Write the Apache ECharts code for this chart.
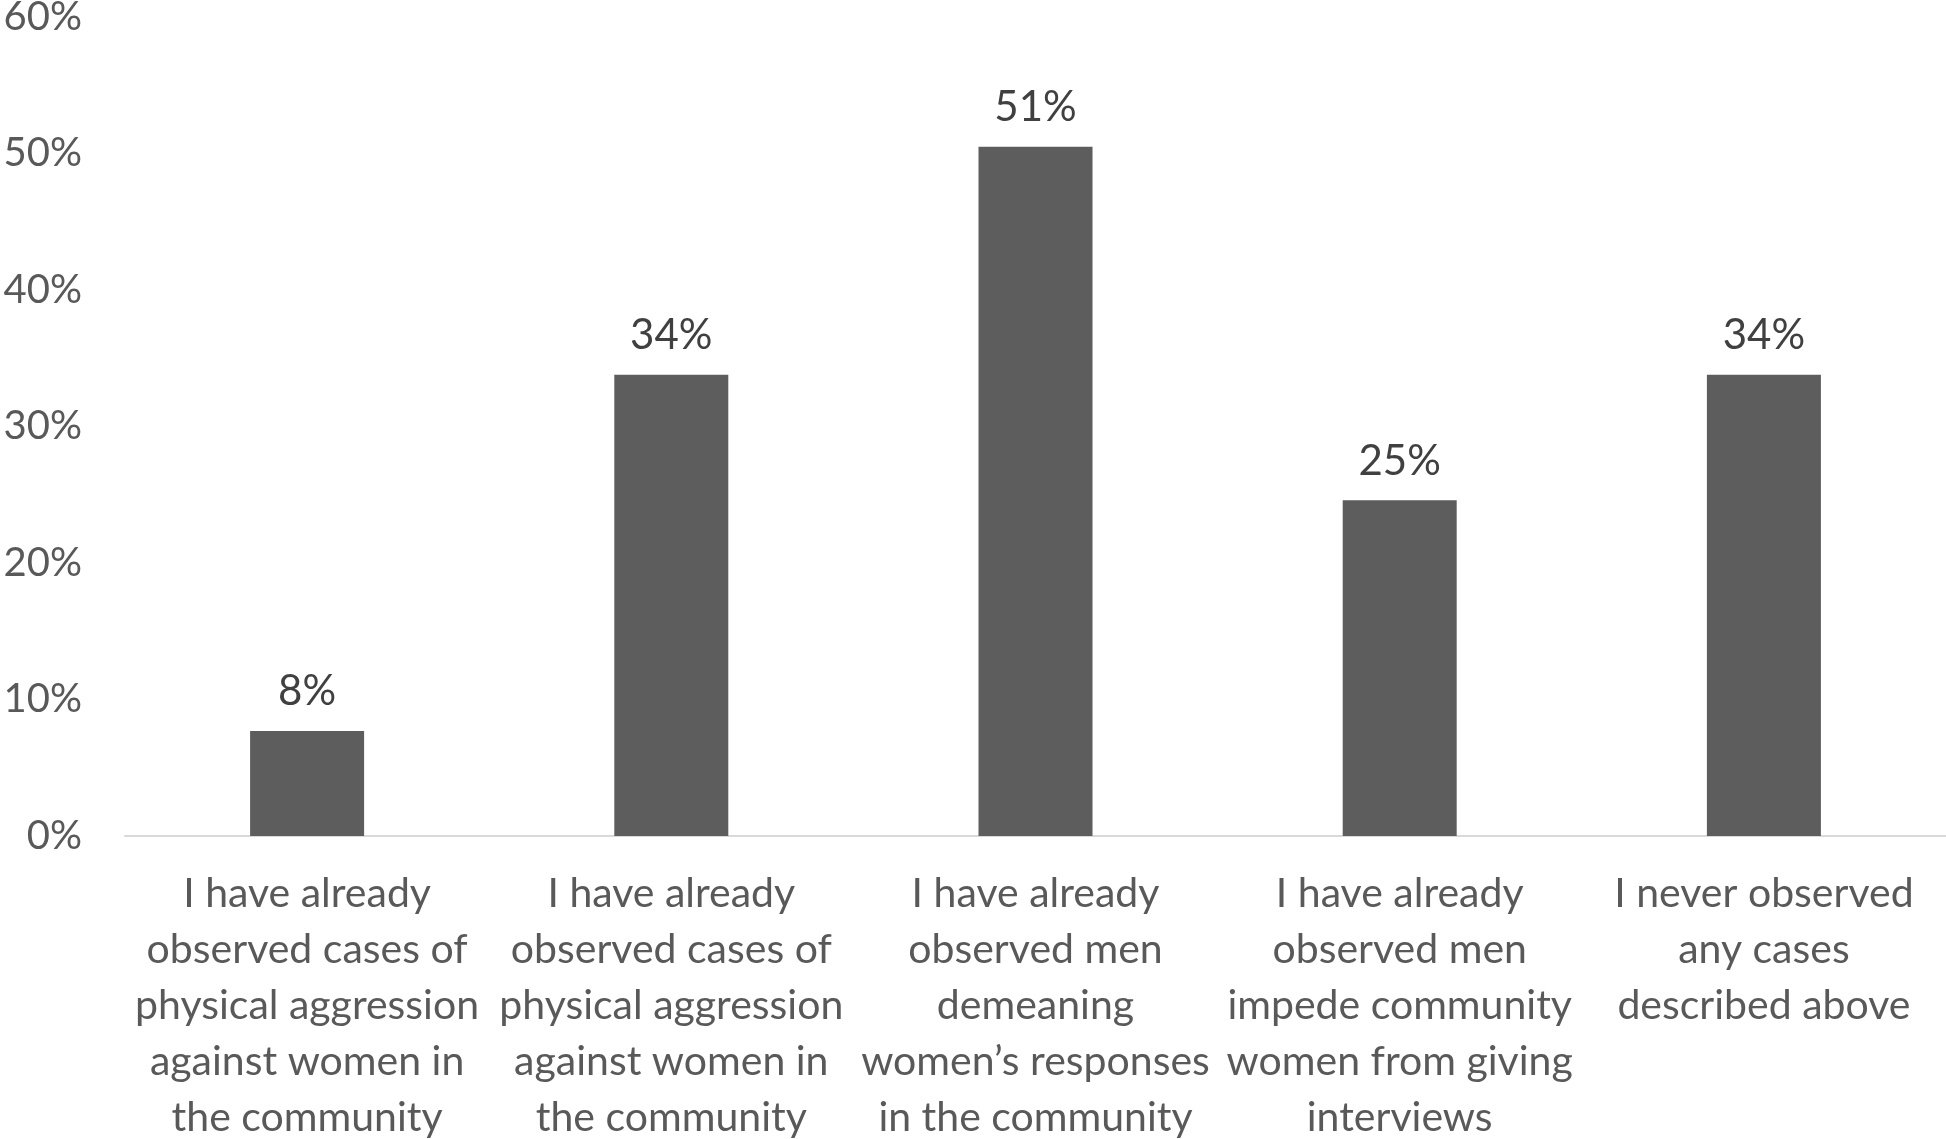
<!DOCTYPE html>
<html>
<head>
<meta charset="utf-8">
<script src="https://cdn.jsdelivr.net/npm/echarts@6/dist/echarts.min.js"></script>
<style>
html,body{margin:0;padding:0;background:#fff;}
#chart{width:1946px;height:1139px;}
</style>
</head>
<body>
<div id="chart"></div>
<script>
var categories = [
  "I have already\nobserved cases of\nphysical aggression\nagainst women in\nthe community",
  "I have already\nobserved cases of\nphysical aggression\nagainst women in\nthe community",
  "I have already\nobserved men\ndemeaning\nwomen\u2019s responses\nin the community",
  "I have already\nobserved men\nimpede community\nwomen from giving\ninterviews",
  "I never observed\nany cases\ndescribed above"
];
var values = [7.7, 33.8, 50.5, 24.6, 33.8];
var yTicks = [0, 10, 20, 30, 40, 50, 60];

var chart = echarts.init(document.getElementById('chart'), null, {renderer: 'canvas'});
chart.setOption({
  backgroundColor: '#ffffff',
  animation: false,
  grid: {left: 125, right: 0, top: 17, bottom: 303, containLabel: false, outerBoundsMode: 'none'},
  xAxis: {
    type: 'category',
    data: categories,
    axisLine: {show: true, lineStyle: {color: '#d9d9d9', width: 2}},
    axisTick: {show: false},
    axisLabel: {
      interval: 0,
      color: '#595959',
      fontFamily: 'Lato, "Open Sans", sans-serif',
      fontSize: 41,
      lineHeight: 56,
      margin: 30
    }
  },
  yAxis: {
    type: 'value',
    min: yTicks[0],
    max: yTicks[yTicks.length - 1],
    interval: 10,
    splitLine: {show: false},
    axisLine: {show: false},
    axisTick: {show: false},
    axisLabel: {
      color: '#595959',
      fontFamily: 'Lato, "Open Sans", sans-serif',
      fontSize: 40,
      margin: 43,
      padding: [6, 0, 0, 0],
      formatter: function (v) { return v + '%'; }
    }
  },
  series: [{
    type: 'bar',
    data: values,
    barWidth: 114,
    itemStyle: {color: '#5d5d5d'},
    label: {
      show: true,
      position: 'top',
      distance: 18,
      color: '#404040',
      fontFamily: 'Lato, "Open Sans", sans-serif',
      fontSize: 42,
      formatter: function (p) { return Math.round(p.value) + '%'; }
    }
  }]
});
</script>
</body>
</html>
